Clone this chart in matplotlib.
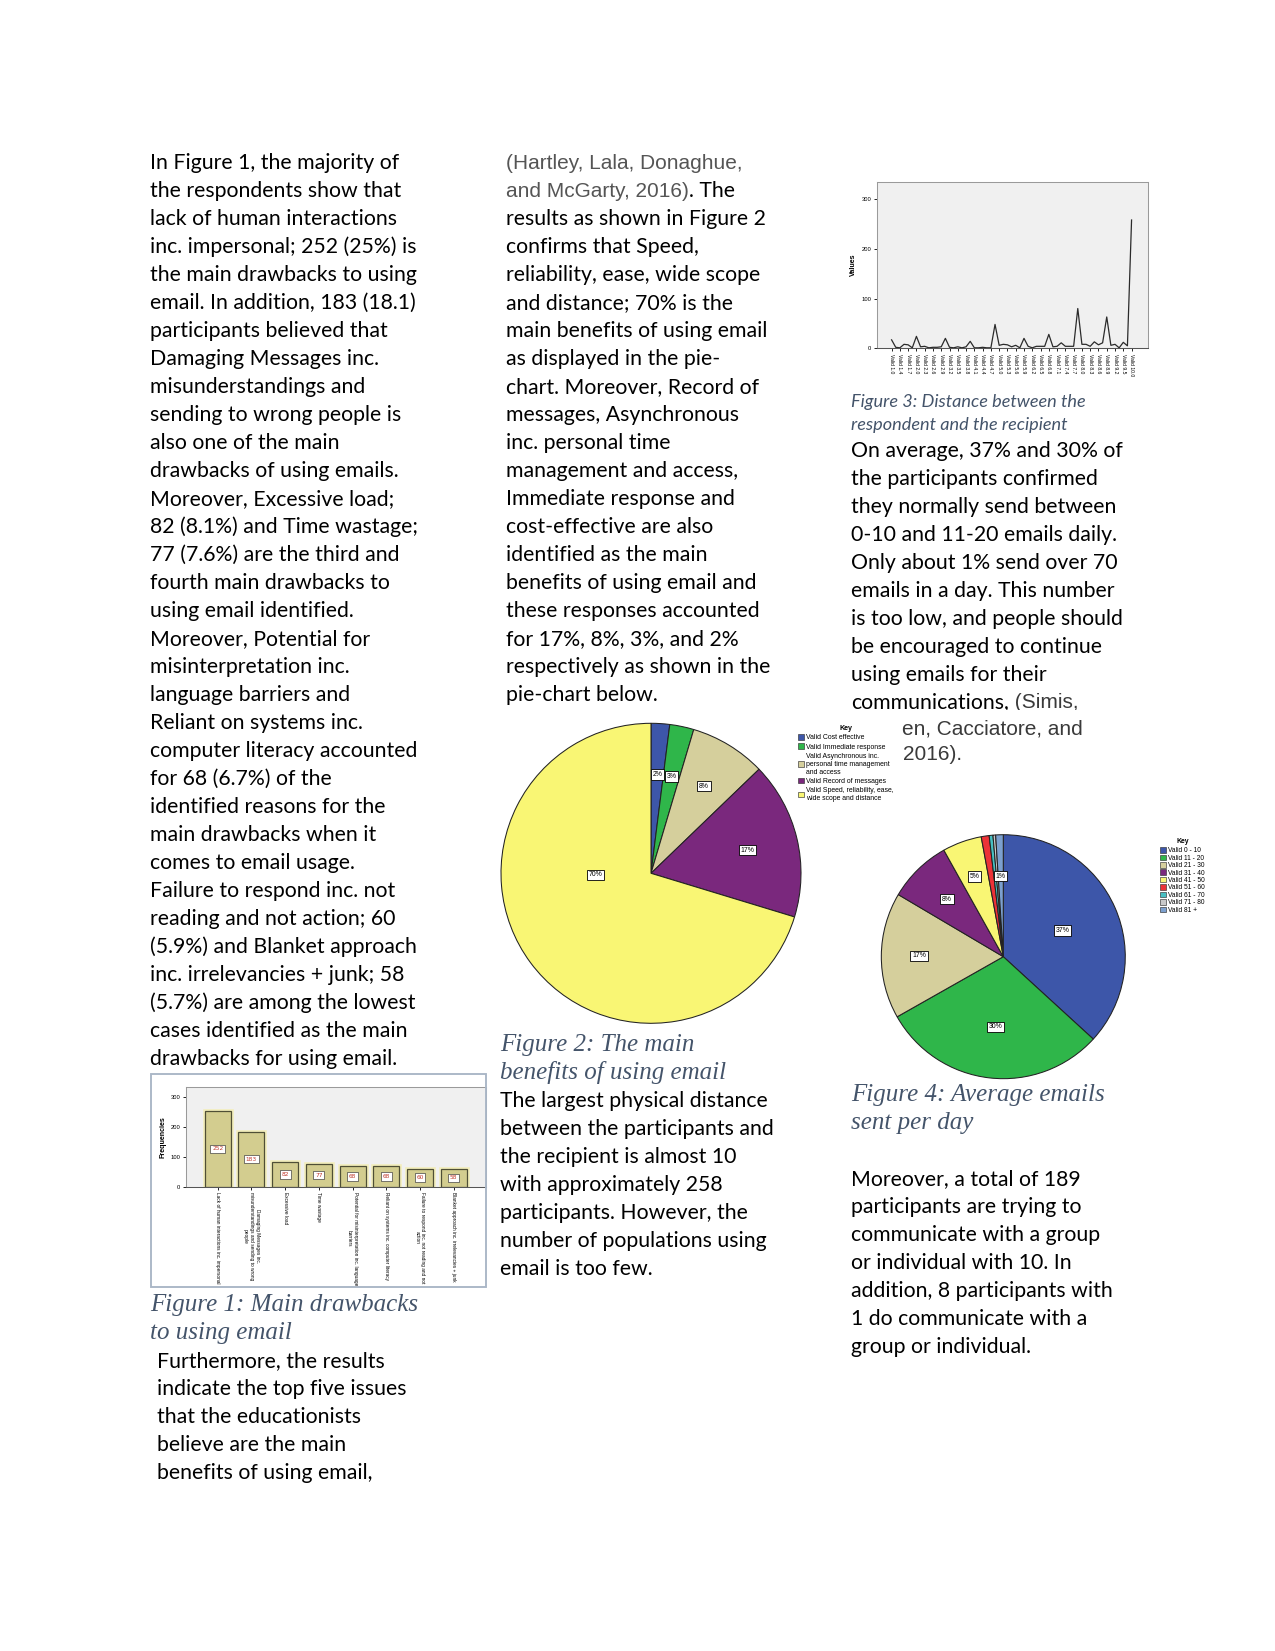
import matplotlib
matplotlib.use('Agg')
import matplotlib.pyplot as plt
import matplotlib.patheffects as pe
import numpy as np
from matplotlib.patches import Patch, Rectangle

# page in pixels (letter page at 150 dpi)
W, H = 1275, 1651
DPI = 150

BODY = 'Lato'
ARIAL = 'Liberation Sans'
SERIF = 'Liberation Serif'
CAP_COLOR = '#44546a'

# ---------------- data ----------------
drawback_labels = [
    'Lack of human interactions inc. impersonal',
    'Damaging Messages inc.\nmisunderstandings and sending to wrong\npeople',
    'Excessive load',
    'Time wastage',
    'Potential for misinterpretation inc. language\nbarriers',
    'Reliant on systems inc. computer literacy',
    'Failure to respond inc. not reading and not\naction',
    'Blanket approach inc. irrelevancies + junk',
]
drawback_counts = [252, 183, 82, 77, 68, 68, 60, 58]

distance_values = [17, 2, 1, 8, 7, 1, 24, 3, 4, 1,
                   2, 2, 3, 20, 2, 1, 3, 1, 3, 14,
                   1, 1, 2, 1, 1, 48, 6, 8, 7, 3,
                   6, 1, 20, 4, 1, 4, 4, 4, 28, 3,
                   4, 11, 4, 4, 4, 80, 8, 8, 4, 13,
                   7, 11, 63, 6, 8, 1, 12, 5, 258]
distance_ticklabels = ['Valid 1.0', 'Valid 1.4', 'Valid 1.7', 'Valid 2.0', 'Valid 2.3',
                       'Valid 2.6', 'Valid 2.9', 'Valid 3.2', 'Valid 3.5', 'Valid 3.8',
                       'Valid 4.1', 'Valid 4.4', 'Valid 4.7', 'Valid 5.0', 'Valid 5.3',
                       'Valid 5.6', 'Valid 5.9', 'Valid 6.2', 'Valid 6.5', 'Valid 6.8',
                       'Valid 7.1', 'Valid 7.4', 'Valid 7.7', 'Valid 8.0', 'Valid 8.3',
                       'Valid 8.6', 'Valid 8.9', 'Valid 9.2', 'Valid 9.5', 'Valid 10.0']

benefit_labels = ['Valid Cost effective',
                  'Valid Immediate response',
                  'Valid Asynchronous inc.\npersonal time management\nand access',
                  'Valid Record of messages',
                  'Valid Speed, reliability, ease,\nwide scope and distance']
benefit_shares = [2.0, 2.6, 8.2, 16.9, 70.3]
benefit_pct = ['2%', '3%', '8%', '17%', '70%']

daily_labels = ['Valid 0 - 10', 'Valid 11 - 20', 'Valid 21 - 30', 'Valid 31 - 40',
                'Valid 41 - 50', 'Valid 51 - 60', 'Valid 61 - 70', 'Valid 71 - 80',
                'Valid 81 +']
daily_shares = [36.8, 30.0, 16.7, 8.4, 5.2, 1.05, 0.5, 0.35, 1.0]
daily_pct = ['37%', '30%', '17%', '8%', '5%', '', '', '', '1%']

spss_colors = ['#3d56a9', '#2fb64a', '#d5cf9c', '#7a287d', '#f9f674',
               '#ec3237', '#47bfc2', '#c9c9c9', '#7ca0cf']

col1_lines = [
    'In Figure 1, the majority of', 'the respondents show that', 'lack of human interactions',
    'inc. impersonal; 252 (25%) is', 'the main drawbacks to using', 'email. In addition, 183 (18.1)',
    'participants believed that', 'Damaging Messages inc.', 'misunderstandings and',
    'sending to wrong people is', 'also one of the main', 'drawbacks of using emails.',
    'Moreover, Excessive load;', '82 (8.1%) and Time wastage;', '77 (7.6%) are the third and',
    'fourth main drawbacks to', 'using email identified.', 'Moreover, Potential for',
    'misinterpretation inc.', 'language barriers and', 'Reliant on systems inc.',
    'computer literacy accounted', 'for 68 (6.7%) of the', 'identified reasons for the',
    'main drawbacks when it', 'comes to email usage.', 'Failure to respond inc. not',
    'reading and not action; 60', '(5.9%) and Blanket approach', 'inc. irrelevancies + junk; 58',
    '(5.7%) are among the lowest', 'cases identified as the main', 'drawbacks for using email.',
]
col1_tail = ['Furthermore, the results', 'indicate the top five issues', 'that the educationists',
             'believe are the main', 'benefits of using email,']
col2_lines = [
    'results as shown in Figure 2', 'confirms that Speed,', 'reliability, ease, wide scope',
    'and distance; 70% is the', 'main benefits of using email', 'as displayed in the pie-',
    'chart. Moreover, Record of', 'messages, Asynchronous', 'inc. personal time',
    'management and access,', 'Immediate response and', 'cost-effective are also',
    'identified as the main', 'benefits of using email and', 'these responses accounted',
    'for 17%, 8%, 3%, and 2%', 'respectively as shown in the', 'pie-chart below.',
]
col2_tail = ['The largest physical distance', 'between the participants and',
             'the recipient is almost 10', 'with approximately 258', 'participants. However, the',
             'number of populations using', 'email is too few.']
col3_lines = ['On average, 37% and 30% of', 'the participants confirmed',
              'they normally send between', '0-10 and 11-20 emails daily.',
              'Only about 1% send over 70', 'emails in a day. This number',
              'is too low, and people should', 'be encouraged to continue',
              'using emails for their']
col3_tail = ['Moreover, a total of 189', 'participants are trying to', 'communicate with a group',
             'or individual with 10. In', 'addition, 8 participants with',
             '1 do communicate with a', 'group or individual.']

LINE = 28.0
BODY_SIZE = 10.2
ARIAL_SIZE = 10.0
CAP_SIZE = 12.0

fig = plt.figure(figsize=(W / DPI, H / DPI), dpi=DPI)
renderer = fig.canvas.get_renderer()


def fx(x):
    return x / W


def fy(y):
    return 1 - y / H


def put(x, y, s, **kw):
    opts = dict(family=BODY, size=BODY_SIZE, color='black')
    opts.update(kw)
    return fig.text(fx(x), fy(y), s, va='center', ha='left', **opts)


def put_block(x, y0, lines, **kw):
    for i, s in enumerate(lines):
        put(x, y0 + i * LINE, s, **kw)


def put_runs(x, y, runs):
    for s, kw in runs:
        t = put(x, y, s, **kw)
        x += t.get_window_extent(renderer=renderer).width


def axes_px(left, top, right, bottom):
    return fig.add_axes([fx(left), fy(bottom), (right - left) / W, (bottom - top) / H])


def caption(x, y, s):
    put(x, y, s, family=SERIF, style='italic', size=CAP_SIZE, color=CAP_COLOR)


arial = dict(family=ARIAL, size=ARIAL_SIZE, color='#555555')
arial_dark = dict(family=ARIAL, size=ARIAL_SIZE, color='#3a3a3a')

# ---------------- column 1 ----------------
put_block(150.5, 163.2, col1_lines)
caption(150.5, 1304.5, 'Figure 1: Main drawbacks')
caption(150.5, 1332.5, 'to using email')
put_block(157, 1361.3, col1_tail)

# Figure 1 bar chart
fig.add_artist(Rectangle((fx(150.5), fy(1286.6)), (486.4 - 150.5) / W, (1286.6 - 1074) / H,
                         transform=fig.transFigure, fill=False, edgecolor='#a9b6c6', lw=0.9))
ax1 = axes_px(185.7, 1087.3, 486, 1186.7)
ax1.set_facecolor('#f0f0f0')
pos = np.arange(len(drawback_counts))
bars = ax1.bar(pos, drawback_counts, width=0.77, color='#d3cd8f', edgecolor='#4f4f36', lw=0.6)
for b in bars:
    b.set_path_effects([pe.Stroke(linewidth=2.2, foreground='#f3eebb'), pe.Normal()])
for p, v in zip(pos, drawback_counts):
    ax1.text(p, v / 2, str(v), ha='center', va='center', fontsize=2.8, color='#c0392b',
             bbox=dict(boxstyle='square,pad=0.3', fc='white', ec='#333333', lw=0.3))
ax1.set_xlim(-0.95, 7.96)
ax1.set_ylim(0, 331)
ax1.set_yticks([0, 100, 200, 300])
ax1.set_xticks(pos)
ax1.set_xticklabels(drawback_labels, rotation=-90, ha='center', va='top', fontsize=2.3,
                    family=ARIAL)
ax1.tick_params(axis='both', labelsize=2.8, length=1.5, width=0.4, pad=1)
ax1.tick_params(axis='x', labelsize=2.3)
ax1.set_ylabel('Frequencies', fontsize=3.4, weight='bold', family=ARIAL, labelpad=2)
for lab in ax1.get_yticklabels():
    lab.set_family(ARIAL)
for s in ax1.spines.values():
    s.set_color('#9a9a9a')
    s.set_linewidth(0.5)
ax1.spines['bottom'].set_color('#555555')

# ---------------- column 2 ----------------
put(506.4, 163.2, '(Hartley, Lala, Donaghue,', **arial)
put_runs(506.4, 191.2, [('and McGarty, 2016)', arial), ('. The', dict())])
put_block(506.4, 219.2, col2_lines)
caption(500, 1045.4, 'Figure 2: The main')
caption(500, 1073.0, 'benefits of using email')
put_block(500, 1101.2, col2_tail)

# ---------------- column 3 ----------------
put(850.7, 402, 'Figure 3: Distance between the', style='italic', size=8.7, color=CAP_COLOR)
put(850.7, 425, 'respondent and the recipient', style='italic', size=8.7, color=CAP_COLOR)
put_block(850.7, 450.6, col3_lines)
put_runs(850.7, 702.2, [('communications,', dict()), (' (Simis,', arial_dark)])
# the Figure 2 image sits over the start of the next two lines
put(902.5, 728.5, 'en, Cacciatore, and', **arial_dark)
put(902.5, 754.5, '2016).', **arial_dark)
caption(850.7, 1095, 'Figure 4: Average emails')
caption(850.7, 1122.5, 'sent per day')
put_block(850.7, 1179, col3_tail)

# Figure 3 line chart
ax3 = axes_px(876.7, 181.7, 1147.7, 348.3)
ax3.set_facecolor('#f0f0f0')
ax3.plot(np.arange(len(distance_values)), distance_values, color='#2b2b2b', lw=0.6)
ax3.set_xlim(-3.6, 61.9)
ax3.set_ylim(0, 335)
ax3.set_yticks([0, 100, 200, 300])
ax3.set_xticks(np.arange(0, len(distance_values), 2))
ax3.set_xticklabels(distance_ticklabels, rotation=-90, ha='center', va='top', fontsize=2.4,
                    family=ARIAL)
ax3.tick_params(axis='both', length=1.5, width=0.4, pad=1)
ax3.tick_params(axis='y', labelsize=2.8)
for lab in ax3.get_yticklabels():
    lab.set_family(ARIAL)
ax3.set_ylabel('Values', fontsize=3.4, weight='bold', family=ARIAL, labelpad=2)
for s in ax3.spines.values():
    s.set_color('#9a9a9a')
    s.set_linewidth(0.5)
ax3.spines['bottom'].set_color('#555555')

# the line above the Figure 2 image loses its descenders
fig.add_artist(Rectangle((fx(840), fy(716)), (1100 - 840) / W, 6.5 / H,
                         transform=fig.transFigure, facecolor='white', edgecolor='none', zorder=4))


def draw_pie(ax, shares, colors, pct, dists):
    wedges, _ = ax.pie(shares, colors=colors, startangle=90, counterclock=False, radius=1,
                       wedgeprops=dict(edgecolor='#222222', linewidth=0.5))
    texts = []
    for w, s, d in zip(wedges, pct, dists):
        if not s:
            continue
        ang = np.deg2rad((w.theta1 + w.theta2) / 2)
        texts.append(ax.text(d * np.cos(ang), d * np.sin(ang), s, ha='center', va='center',
                             fontsize=3.3, family=ARIAL,
                             bbox=dict(boxstyle='square,pad=0.25', fc='white', ec='black', lw=0.4)))
    ax.set_xlim(-1.01, 1.01)
    ax.set_ylim(-1.01, 1.01)
    ax.set_aspect('equal')
    ax.axis('off')
    return wedges, texts


def draw_key(ax, labels, colors, x, y, size, spacing):
    handles = [Patch(facecolor=c, edgecolor='#333333', linewidth=0.3) for c in colors]
    leg = ax.legend(handles, labels, title='Key', loc='upper left',
                    bbox_to_anchor=(fx(x), fy(y)), bbox_transform=fig.transFigure,
                    frameon=False, handlelength=0.9, handleheight=0.9,
                    handletextpad=0.3, labelspacing=spacing, borderpad=0, borderaxespad=0,
                    title_fontproperties=dict(weight='bold', size=size + 0.1, family=ARIAL),
                    prop=dict(family=ARIAL, size=size))
    leg._legend_box.sep = 1
    return leg


# Figure 2 pie
ax2 = axes_px(651 - 151.5, 873.3 - 151.5, 651 + 151.5, 873.3 + 151.5)
ax2.set_zorder(5)
_, t2 = draw_pie(ax2, benefit_shares, spss_colors[:5], benefit_pct, [0.66, 0.66, 0.68, 0.66, 0.37])
# SPSS puts the large slice label left of centre
t2[-1].set_position((-0.37, -0.01))
draw_key(ax2, benefit_labels, spss_colors[:5], 798, 725, 3.3, 0.3)

# Figure 4 pie
ax4 = axes_px(1003.3 - 123.2, 956.7 - 123.2, 1003.3 + 123.2, 956.7 + 123.2)
ax4.set_zorder(5)
draw_pie(ax4, daily_shares, spss_colors, daily_pct,
         [0.53, 0.58, 0.69, 0.66, 0.70, 0.6, 0.6, 0.6, 0.66])
draw_key(ax4, daily_labels, spss_colors, 1160, 838, 3.2, 0.06)

plt.savefig('out.png', dpi=DPI)
